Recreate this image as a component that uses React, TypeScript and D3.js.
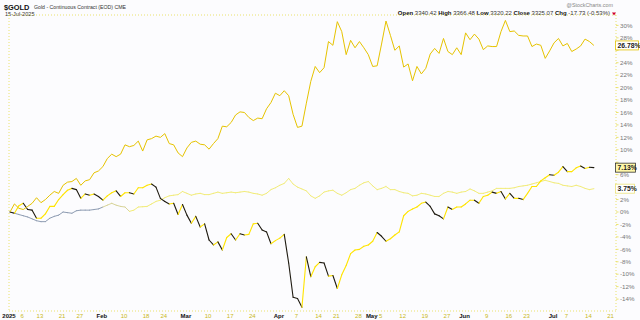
import React from "react";
import * as d3 from "d3";

// trading-day index 0 = 31-Dec-2024 base, 132 = 15-Jul-2025
const goldPct = [
  0, 1.3, 0.6, 0.4, 0.9, 1.4, 2.3, 1.5, 2.0, 2.7,
  3.3, 3.0, 4.3, 4.8, 4.9, 5.4, 4.3, 5.0, 5.2, 6.3,
  6.6, 7.3, 8.6, 9.3, 8.9, 9.3, 10.8, 10.5, 10.7, 11.4,
  9.8, 11.6, 11.8, 12.2, 12.0, 12.6, 11.0, 10.8, 9.5, 8.9,
  10.3, 11.2, 11.4, 10.9, 10.8, 10.1, 11.0, 11.8, 13.8, 13.7,
  14.4, 15.6, 16.1, 16.0, 15.2, 14.7, 15.1, 15.0, 16.6, 17.6,
  19.1, 18.7, 19.5, 18.7, 15.7, 13.6, 13.8, 17.5, 21.0, 23.4,
  22.4, 23.2, 27.4, 26.8, 30.6, 29.0, 25.3, 27.6, 26.4, 27.4,
  26.4, 25.3, 23.4, 23.5, 27.0, 30.7, 28.4, 26.0, 26.7, 23.3,
  23.8, 21.1, 23.4, 22.2, 23.1, 25.4, 26.3, 25.5, 27.9, 25.8,
  25.3, 26.4, 25.3, 28.8, 27.7, 28.6, 27.8, 26.1, 26.7, 26.6,
  26.6, 29.0, 30.8, 29.0, 29.1, 28.4, 28.3, 28.3, 26.6, 27.0,
  26.8, 24.7, 25.9, 27.2, 27.9, 26.7, 27.1, 25.8, 26.2, 26.7,
  27.8, 27.4, 26.78,
];

const midPct = [
  0, -0.2, 1.0, 1.4, 0.4, 0.3, -1.0, -1.0, -0.3, 0.9,
  0.9, 2.0, 2.8, 3.5, 3.8, 3.6, 2.2, 2.9, 2.7, 2.9,
  2.5, 1.9, 2.6, 3.1, 3.4, 2.5, 3.1, 3.1, 2.9, 3.9,
  3.9, 4.3, 4.5, 4.0, 2.2, 1.7, 1.3, 1.4, -0.4, 1.2,
  -0.5, -1.8, -0.7, -2.4, -1.9, -4.5, -5.3, -4.8, -6.1, -4.1,
  -3.5, -4.5, -3.5, -3.7, -3.6, -1.9, -1.8, -2.9, -3.2, -5.1,
  -4.6, -4.2, -3.6, -8.2, -13.7, -13.9, -15.3, -7.2, -10.4, -8.8,
  -8.1, -8.2, -10.3, -10.2, -12.3, -10.1, -8.6, -6.7, -6.1, -6.0,
  -5.5, -5.3, -4.7, -3.3, -3.9, -4.7, -4.3, -3.7, -3.2, -0.6,
  0.1, 0.5, 0.8, 1.4, 1.6, 0.9, -0.3, -0.6, -1.1, 0.8,
  0.4, 0.8, 0.8, 1.3, 1.9, 1.9, 1.4, 2.5, 2.7, 3.2,
  3.0, 3.3, 2.1, 3.0, 2.2, 2.2, 2.0, 3.0, 4.1, 4.1,
  5.0, 5.5, 6.0, 5.9, 6.4, 7.3, 6.5, 6.5, 7.1, 7.4,
  7.0, 7.2, 7.13,
];

const lowPct = [
  0, -0.2, -0.4, -0.6, -0.8, -1.1, -1.4, -1.55, -1.55, -1.0,
  -0.7, -0.5, 0.0, -0.1, -0.2, 0.2, 0.3, 0.3, 0.3, 0.4,
  0.5, 0.8, 1.1, 1.4, 1.1, 0.9, 0.8, 0.1, 0.3, 0.8,
  0.85, 0.9, 1.3, 1.7, 1.9, 2.3, 2.6, 2.7, 2.8, 3.3,
  3.0, 2.7, 2.9, 3.0, 2.8, 2.8, 3.0, 3.2, 3.0, 3.1,
  3.2, 3.1, 3.2, 3.3, 3.2, 3.0, 2.9, 2.7, 3.0, 3.6,
  3.9, 4.3, 4.6, 5.4, 4.5, 4.0, 3.7, 3.4, 2.6, 2.2,
  2.6, 3.2, 3.4, 3.5, 3.0, 2.7, 3.1, 3.6, 3.8, 4.3,
  4.7, 4.9, 4.2, 3.6, 3.8, 4.1, 3.6, 3.6, 3.3, 3.1,
  3.0, 2.6, 2.7, 3.0, 2.9, 2.7, 2.5, 2.5, 3.0, 3.3,
  3.2, 3.0, 3.2, 3.3, 3.7, 3.4, 3.0, 3.0, 3.2, 3.4,
  3.8, 3.8, 3.8, 3.8, 3.9, 4.1, 4.2, 4.3, 4.5, 4.7,
  4.9, 5.1, 4.9, 4.7, 4.6, 4.3, 4.2, 4.1, 4.3, 4.1,
  3.8, 3.6, 3.75,
];

const tickIdx = [0, 3, 7, 12, 16, 21, 26, 31, 35, 40, 45, 50, 55, 61, 65, 70, 74, 79, 82, 84, 89, 94, 99, 103, 108, 113, 117, 123, 126, 131, 136];
const tickText = ["2025", "6", "13", "21", "27", "Feb", "10", "18", "24", "Mar", "10", "17", "24", "Apr", "7", "14", "21", "28", "May", "5", "12", "19", "27", "Jun", "9", "16", "23", "Jul", "7", "14", "21"];

const yTicks = d3.range(-14, 31, 2);

const FONT = "'Liberation Sans', Arial, sans-serif";

export default function App() {
  const W = 640, H = 320;
  const x = d3.scaleLinear().domain([0, 137]).range([10, 616]);
  const y = d3.scaleLinear().domain([-14, 30]).range([299.1, 25.4]);
  const left = 9, right = 616, top = 15, bottom = 311;

  const lastVals = [goldPct[goldPct.length - 1], midPct[midPct.length - 1], lowPct[lowPct.length - 1]];
  const goldLine = d3.line<number>().x((_, i) => x(i)).y((d) => y(d));

  const segs = (arr: number[], colorFn: (i: number, a: number, b: number) => string, w: number) =>
    arr.slice(1).map((v, k) => (
      <line key={k} x1={x(k)} y1={y(arr[k])} x2={x(k + 1)} y2={y(v)} stroke={colorFn(k, arr[k], v)} strokeWidth={w} strokeLinecap="round" />
    ));

  const valBox = (v: number, label: string, stroke: string, fill: string, w: number) => (
    <g>
      <rect x={615.5} y={y(v) - 4.5} width={w} height={9} fill={fill} stroke={stroke} strokeWidth={0.8} />
      <text x={617.5} y={y(v) + 2.4} fontSize={6.8} fontWeight="bold" fill="#222" fontFamily={FONT}>{label}</text>
    </g>
  );

  return (
    <svg width={W} height={H} style={{ position: "absolute", left: 0, top: 0, background: "#fcfcfe" }}>
      <rect x={0} y={0} width={W} height={H} fill="#fcfcfe" />
      {/* header */}
      <text x={4} y={9.5} fontSize={7.4} fontWeight="bold" fill="#111" fontFamily={FONT}>$GOLD</text>
      <text x={34} y={9} fontSize={5.2} fill="#333" fontFamily={FONT}>Gold - Continuous Contract (EOD)  CME</text>
      <text x={5} y={16} fontSize={5.6} fill="#333" fontFamily={FONT}>15-Jul-2025</text>
      <text x={613} y={7} fontSize={5.4} fill="#888" fontFamily={FONT} textAnchor="end">@StockCharts.com</text>
      <text x={610} y={15} fontSize={6} fill="#333" fontFamily={FONT} textAnchor="end">
        <tspan fontWeight="bold" fill="#111">Open</tspan> 3340.42 <tspan fontWeight="bold" fill="#111">High</tspan> 3366.48 <tspan fontWeight="bold" fill="#111">Low</tspan> 3320.22 <tspan fontWeight="bold" fill="#111">Close</tspan> 3325.07 <tspan fontWeight="bold" fill="#111">Chg</tspan> -17.73 (-0.53%)
      </text>
      <path d="M612,12.5 L616,12.5 L614,15.5 Z" fill="#d0002a" />

      {/* frame */}
      <g stroke="#e6dc4a" strokeWidth={0.8} strokeDasharray="1,2" fill="none">
        <line x1={left} y1={top} x2={right} y2={top} />
        <line x1={left} y1={bottom} x2={right} y2={bottom} />
        <line x1={left} y1={top} x2={left} y2={bottom} />
        <line x1={right} y1={top} x2={right} y2={bottom} />
      </g>

      {/* y axis */}
      {yTicks.map((t) => {
        const hidden = lastVals.some((v) => Math.abs(y(v) - y(t)) < 6.5);
        return (
          <g key={t}>
            <line x1={right} x2={right + 2.5} y1={y(t)} y2={y(t)} stroke="#e6dc4a" strokeWidth={0.8} />
            {!hidden && <text x={620} y={y(t) + 2.2} fontSize={6.2} fill="#777" fontFamily={FONT}>{`${t}%`}</text>}
          </g>
        );
      })}

      {/* x axis */}
      {tickIdx.map((t, i) => {
        const isMonth = isNaN(Number(tickText[i])) || tickText[i] === "2025";
        return (
          <text key={i} x={x(t) - 1} y={317.5} fontSize={6} textAnchor="middle" fontFamily={FONT}
            fontWeight={isMonth ? "bold" : "normal"} fill={isMonth ? "#111" : "#c9b820"}>{tickText[i]}</text>
        );
      })}

      {/* lines */}
      <g>{segs(lowPct, (i) => (i < 21 ? "#8f9db3" : i < 27 ? "#d8d49a" : "#f2ec7a"), 1)}</g>
      <g>{segs(midPct, (_, a, b) => (b >= a ? "#ffe400" : "#1e1a10"), 1.1)}</g>
      <path d={goldLine(goldPct) || ""} fill="none" stroke="#e6c300" strokeWidth={1} strokeLinejoin="round" />

      {/* value boxes */}
      {valBox(lastVals[0], "26.78%", "#e3c200", "#ffffff", 23)}
      {valBox(lastVals[1], "7.13%", "#333", "#fff7a8", 20)}
      {valBox(lastVals[2], "3.75%", "#ebe27a", "#ffffff", 19)}
    </svg>
  );
}
